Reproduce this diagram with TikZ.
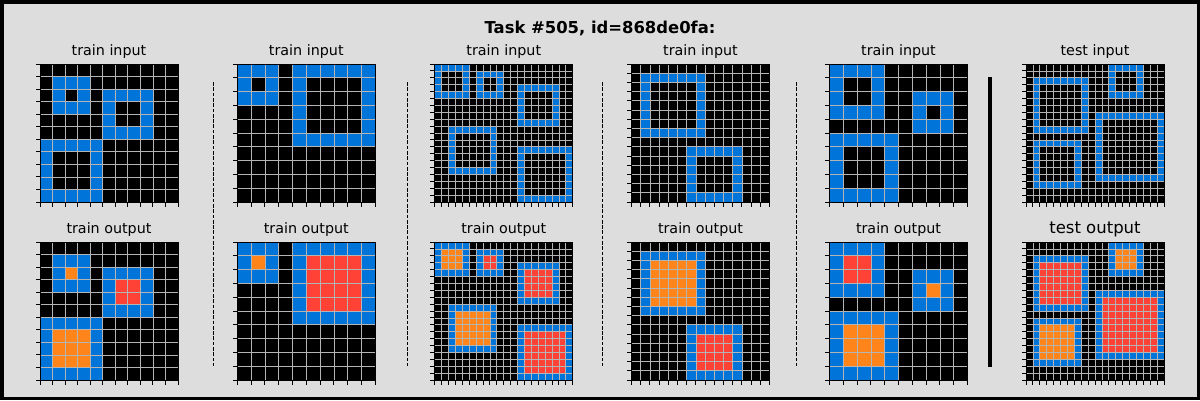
\documentclass[tikz,border=0pt]{standalone}
\usepackage{fontspec}
\setmainfont{DejaVu Sans}
\definecolor{arcblue}{HTML}{0074D9}
\definecolor{arcorange}{HTML}{FF851B}
\definecolor{arcred}{HTML}{FF4136}
\definecolor{bggray}{HTML}{DDDDDD}
\definecolor{gline}{HTML}{B4B4B4}
\newcommand\bsq[3]{\fill[arcblue] (#2,#1) rectangle ++(#3,#3); \fill[black] (#2+1,#1+1) rectangle ++(#3-2,#3-2);}
\newcommand\osq[4]{\fill[arcblue] (#2,#1) rectangle ++(#3,#3); \fill[#4] (#2+1,#1+1) rectangle ++(#3-2,#3-2);}
\newcommand\arcgrid[4]{%
  \pgfmathsetmacro\cs{138/#3}%
  \begin{scope}[shift={(#1,#2)}, x=\cs pt, y=-\cs pt]
    \fill[black] (0,0) rectangle (#3,#3);
    #4
    \foreach \i in {1,...,\numexpr#3-1\relax}{
      \draw[gridln] (\i,0) -- (\i,#3);
      \draw[gridln] (0,\i) -- (#3,\i);
    }
    \draw[spine] (0,0) rectangle (#3,#3);
    \foreach \i in {0,...,#3}{
      \draw[tick] (0,\i) -- ++(-4.5pt,0);
      \draw[tick] (\i,#3) -- ++(0,-4.5pt);
    }
  \end{scope}}
\tikzset{
  gridln/.style={gline, line width=0.7pt},
  spine/.style={black, line width=1pt},
  tick/.style={black, line width=0.9pt},
  sub/.style={font=\fontsize{14.3}{14.3}\selectfont, anchor=center},
  sep/.style={black, line width=1pt, dash pattern=on 3.7pt off 1.6pt},
}
\begin{document}
\begin{tikzpicture}[x=1pt, y=-1pt]
\useasboundingbox (0,0) rectangle (1200,400);
\fill[bggray] (0,0) rectangle (1200,400);
\draw[black, line width=3.5pt] (1.75,1.75) rectangle (1198.25,398.25);
\node[font=\fontsize{16.4}{16.4}\selectfont\bfseries] (title) at (600,28) {Task \#505, id=868de0fa:};

% titles
\node[sub] (t1) at (109,51.5) {train input};
\node[sub] (t2) at (306.3,51.5) {train input};
\node[sub] (t3) at (503.8,51.5) {train input};
\node[sub] (t4) at (700.5,51.5) {train input};
\node[sub] (t5) at (898.5,51.5) {train input};
\node[sub] (t6) at (1095,51.5) {test input};
\node[sub] (b1) at (109,229.5) {train output};
\node[sub] (b2) at (306.3,229.5) {train output};
\node[sub] (b3) at (503.8,229.5) {train output};
\node[sub] (b4) at (700.5,229.5) {train output};
\node[sub] (b5) at (898.5,229.5) {train output};
\node[sub, font=\fontsize{16.5}{16.5}\selectfont] (b6) at (1095,229.5) {test output};

% grid 1
\arcgrid{40}{64}{11}{\bsq{1}{1}{3}\bsq{2}{5}{4}\bsq{6}{0}{5}}
\arcgrid{40}{242}{11}{\osq{1}{1}{3}{arcorange}\osq{2}{5}{4}{arcred}\osq{6}{0}{5}{arcorange}}
% grid 2
\arcgrid{237.3}{64}{10}{\bsq{0}{0}{3}\bsq{0}{4}{6}}
\arcgrid{237.3}{242}{10}{\osq{0}{0}{3}{arcorange}\osq{0}{4}{6}{arcred}}
% grid 3
\arcgrid{434.7}{64}{20}{\bsq{0}{0}{5}\bsq{1}{6}{4}\bsq{3}{12}{6}\bsq{9}{2}{7}\bsq{12}{12}{8}}
\arcgrid{434.7}{242}{20}{\osq{0}{0}{5}{arcorange}\osq{1}{6}{4}{arcred}\osq{3}{12}{6}{arcred}\osq{9}{2}{7}{arcorange}\osq{12}{12}{8}{arcred}}
% grid 4
\arcgrid{631.5}{64}{15}{\bsq{1}{1}{7}\bsq{9}{6}{6}}
\arcgrid{631.5}{242}{15}{\osq{1}{1}{7}{arcorange}\osq{9}{6}{6}{arcred}}
% grid 5
\arcgrid{829.5}{64}{10}{\bsq{0}{0}{4}\bsq{2}{6}{3}\bsq{5}{0}{5}}
\arcgrid{829.5}{242}{10}{\osq{0}{0}{4}{arcred}\osq{2}{6}{3}{arcorange}\osq{5}{0}{5}{arcorange}}
% grid 6
\arcgrid{1026}{64}{20}{\bsq{0}{12}{5}\bsq{2}{1}{8}\bsq{11}{1}{7}\bsq{7}{10}{10}}
\arcgrid{1026}{242}{20}{\osq{0}{12}{5}{arcorange}\osq{2}{1}{8}{arcred}\osq{11}{1}{7}{arcorange}\osq{7}{10}{10}{arcred}}

% separators
\coordinate (s1a) at (213,82); \coordinate (s1b) at (213,366);
\coordinate (s2a) at (407,82); \coordinate (s2b) at (407,366);
\coordinate (s3a) at (602,82); \coordinate (s3b) at (602,366);
\coordinate (s4a) at (796,82); \coordinate (s4b) at (796,366);
\coordinate (s5a) at (990,77); \coordinate (s5b) at (990,367);
\draw[sep] (s1a) -- (s1b);
\draw[sep] (s2a) -- (s2b);
\draw[sep] (s3a) -- (s3b);
\draw[sep] (s4a) -- (s4b);
\draw[black, line width=4pt] (s5a) -- (s5b);
\end{tikzpicture}
\end{document}
